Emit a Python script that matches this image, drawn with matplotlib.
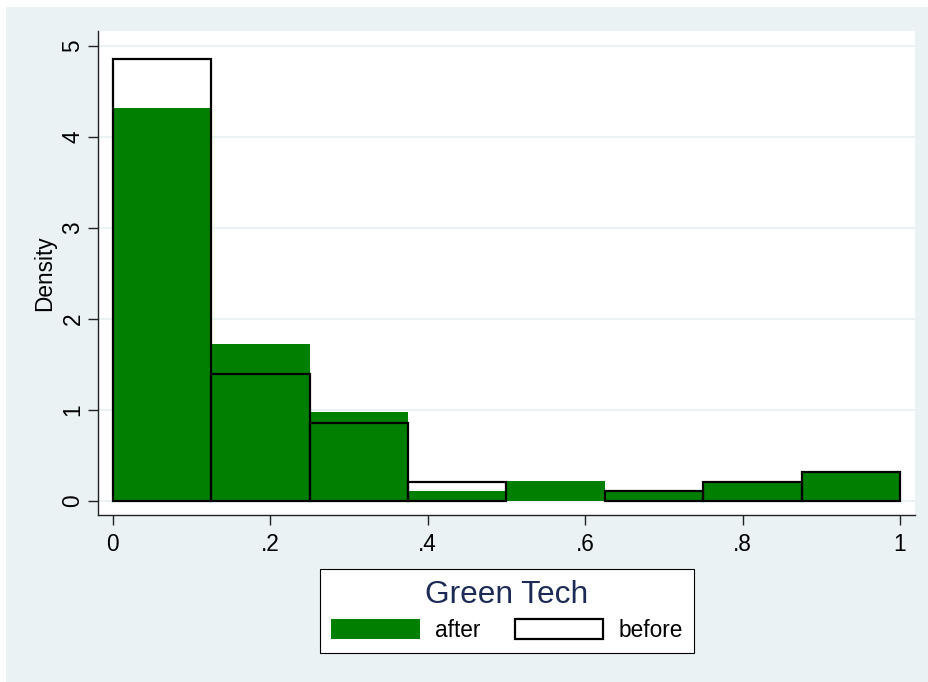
import numpy as np
import matplotlib.pyplot as plt
from matplotlib.patches import Rectangle

plt.rcParams['font.family'] = ['Liberation Sans', 'DejaVu Sans']

# histogram bins (width .125) and densities
bin_edges = np.arange(0, 1, 0.125)
bin_width = 0.125
after = [4.32, 1.72, 0.97, 0.10, 0.21, 0.10, 0.20, 0.31]
before = [4.85, 1.39, 0.85, 0.20, 0.0, 0.10, 0.20, 0.31]

x_ticks = [0, 0.2, 0.4, 0.6, 0.8, 1]
x_ticklabels = ['0', '.2', '.4', '.6', '.8', '1']
y_ticks = [0, 1, 2, 3, 4, 5]

W, H = 929, 682
fig = plt.figure(figsize=(W / 100, H / 100), dpi=100, facecolor='white')
bg = '#eaf2f3'
fig.patches.append(Rectangle((6 / W, 0), 1, 1 - 7 / H, transform=fig.transFigure,
                             facecolor=bg, edgecolor='none', zorder=-10))

ax = fig.add_axes([98 / W, 1 - 515 / H, (915 - 98) / W, (515 - 31) / H])
ax.set_facecolor('white')

# after (filled green)
bars_after = ax.bar(bin_edges, after, width=bin_width, align='edge',
                    color='#007f00', linewidth=0, zorder=2, label='after')
# before (hollow outline), skip empty bins so no flat line is drawn
before = np.array(before)
m = before > 0
bars_before = ax.bar(bin_edges[m], before[m], width=bin_width, align='edge',
                     facecolor='none', edgecolor='black', linewidth=1.6,
                     zorder=3, label='before')

ax.set_xlim(-0.0187, 1.0191)
ax.set_ylim(-0.159, 5.162)

ax.set_yticks(y_ticks)
ax.set_yticklabels([str(t) for t in y_ticks], rotation=90, va='center')
ax.set_xticks(x_ticks)
ax.set_xticklabels(x_ticklabels)
ax.tick_params(axis='both', labelsize=16.3, length=7.2, width=1.0,
               color='#222222', direction='out')
ax.tick_params(axis='y', pad=2.5)
ax.tick_params(axis='x', pad=6)

ax.yaxis.grid(True, color=bg, linewidth=1.5)
ax.set_axisbelow(True)

for s in ['top', 'right']:
    ax.spines[s].set_visible(False)
for s in ['left', 'bottom']:
    ax.spines[s].set_color('#222222')
    ax.spines[s].set_linewidth(1.0)

ax.set_ylabel('Density', fontsize=16.3, labelpad=4)

# legend
leg = ax.legend(handles=[bars_after, bars_before], labels=['after', 'before'],
                ncol=2, title='Green Tech', title_fontsize=22.8, fontsize=16.3,
                loc='center', bbox_to_anchor=(507 / W, 1 - 611 / H),
                bbox_transform=fig.transFigure,
                frameon=True, fancybox=False, framealpha=1,
                edgecolor='black', facecolor='white',
                handlelength=3.9, handleheight=1.0, handletextpad=0.66,
                columnspacing=1.55, borderpad=0.5, labelspacing=0.4)
leg.get_frame().set_linewidth(0.8)
leg.get_title().set_color('#1c2a55')

fig.savefig('out.png', dpi=100, facecolor=fig.get_facecolor())
